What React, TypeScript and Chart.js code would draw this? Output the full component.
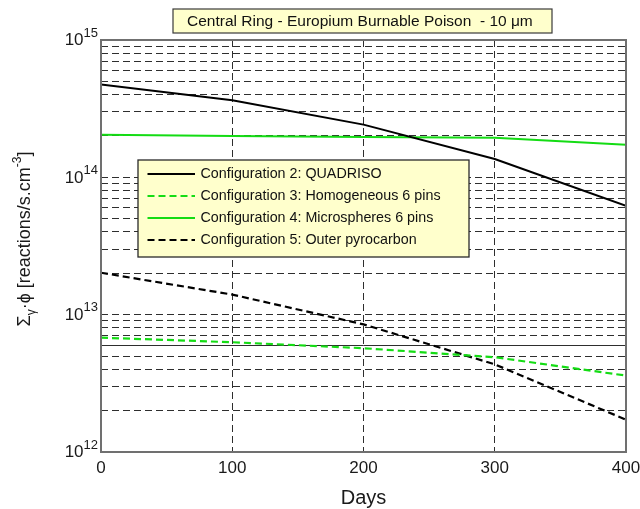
import React, { useEffect, useRef } from "react";
import { Chart, registerables } from "chart.js";

Chart.register(...registerables);

// ---------- data ----------
const days = [0, 100, 200, 300, 400];
const config2 = [4.75e14, 3.64e14, 2.42e14, 1.36e14, 6.2e13]; // QUADRISO
const config3 = [6.8e12, 6.3e12, 5.7e12, 4.9e12, 3.6e12]; // Homogeneous 6 pins
const config4 = [2.04e14, 2.0e14, 1.97e14, 1.94e14, 1.73e14]; // Microspheres 6 pins
const config5 = [2.02e13, 1.4e13, 8.5e12, 4.35e12, 1.72e12]; // Outer pyrocarbon

const xTickValues = [0, 100, 200, 300, 400];
const yExponents = [12, 13, 14, 15];
const yMantissas = [1, 2, 3, 4, 5, 6, 7, 8, 9];
const solidGridValue = 6e12;

const seriesLabels = [
  "Configuration 2: QUADRISO",
  "Configuration 3: Homogeneous 6 pins",
  "Configuration 4: Microspheres 6 pins",
  "Configuration 5: Outer pyrocarbon",
];
const titleText = "Central Ring - Europium Burnable Poison  - 10 \u03bcm";
const xTitle = "Days";

const FONT = '"Liberation Sans", Arial, Helvetica, sans-serif';
const GREEN = "#14dc14";
const BLACK = "#000000";
const DASH = [7, 4];

const overlayPlugin = {
  id: "overlay",
  beforeDraw(chart: any) {
    const { ctx, width, height } = chart;
    ctx.save();
    ctx.fillStyle = "#ffffff";
    ctx.fillRect(0, 0, width, height);
    ctx.restore();
  },
  afterDraw(chart: any) {
    const { ctx, chartArea } = chart;
    const xs = chart.scales.x;
    const ys = chart.scales.y;
    const { left, right, top, bottom } = chartArea;
    ctx.save();

    // plot box
    ctx.strokeStyle = "#707070";
    ctx.lineWidth = 2;
    ctx.setLineDash([]);
    ctx.strokeRect(left, top, right - left, bottom - top);

    // y tick labels 10^n
    ctx.fillStyle = "#1a1a1a";
    for (const e of yExponents) {
      const y = ys.getPixelForValue(Math.pow(10, e));
      const exp = String(e);
      ctx.font = `13px ${FONT}`;
      const wE = ctx.measureText(exp).width;
      const xr = left - 3;
      ctx.textAlign = "left";
      ctx.textBaseline = "alphabetic";
      ctx.fillText(exp, xr - wE, y - 3.5);
      ctx.font = `17px ${FONT}`;
      ctx.textAlign = "right";
      ctx.textBaseline = "middle";
      ctx.fillText("10", xr - wE, y + 0.5);
    }

    // x tick labels
    ctx.font = `17px ${FONT}`;
    ctx.textAlign = "center";
    ctx.textBaseline = "middle";
    for (const v of xTickValues) {
      ctx.fillText(String(v), xs.getPixelForValue(v), bottom + 16.5);
    }

    // x title
    ctx.font = `20px ${FONT}`;
    ctx.fillText(xTitle, (left + right) / 2, bottom + 46);

    // y title with sub/superscripts
    const segs = [
      { t: "\u03a3", s: 18, dy: 0 },
      { t: "\u03b3", s: 12, dy: 5 },
      { t: "\u00b7\u03d5 [reactions/s.cm", s: 18, dy: 0 },
      { t: "-3", s: 12, dy: -9 },
      { t: "]", s: 18, dy: 0 },
    ];
    let total = 0;
    for (const sg of segs) {
      ctx.font = `${sg.s}px ${FONT}`;
      total += ctx.measureText(sg.t).width;
    }
    ctx.save();
    ctx.translate(30, 239);
    ctx.rotate(-Math.PI / 2);
    ctx.textAlign = "left";
    ctx.textBaseline = "alphabetic";
    let cx = -total / 2;
    for (const sg of segs) {
      ctx.font = `${sg.s}px ${FONT}`;
      ctx.fillText(sg.t, cx, sg.dy);
      cx += ctx.measureText(sg.t).width;
    }
    ctx.restore();

    // title box
    ctx.fillStyle = "#ffffcc";
    ctx.fillRect(173, 9, 379, 24);
    ctx.strokeStyle = "#3a3a3a";
    ctx.lineWidth = 1.2;
    ctx.strokeRect(173, 9, 379, 24);
    ctx.fillStyle = "#111111";
    ctx.font = `15.5px ${FONT}`;
    ctx.textAlign = "left";
    ctx.textBaseline = "middle";
    ctx.fillText(titleText, 187, 21.5);

    // legend
    const lx = 138, ly = 160, lw = 331, lh = 97;
    ctx.fillStyle = "#ffffcc";
    ctx.fillRect(lx, ly, lw, lh);
    ctx.strokeStyle = "#2a2a2a";
    ctx.lineWidth = 1.3;
    ctx.strokeRect(lx, ly, lw, lh);
    chart.data.datasets.forEach((ds: any, i: number) => {
      const ry = ly + 14 + i * 22;
      ctx.strokeStyle = ds.borderColor;
      ctx.lineWidth = 2;
      ctx.setLineDash(ds.borderDash || []);
      ctx.beginPath();
      ctx.moveTo(147.5, ry);
      ctx.lineTo(195, ry);
      ctx.stroke();
      ctx.setLineDash([]);
      ctx.fillStyle = "#111111";
      ctx.font = `14.3px ${FONT}`;
      ctx.textAlign = "left";
      ctx.textBaseline = "middle";
      ctx.fillText(ds.label, 200.5, ry + 0.5);
    });

    ctx.restore();
  },
};

export default function App() {
  const canvasRef = useRef<HTMLCanvasElement | null>(null);

  useEffect(() => {
    document.body.style.margin = "0";
    const canvas = canvasRef.current;
    if (!canvas) return;

    const yTicks: number[] = [];
    for (const e of yExponents.slice(0, -1)) {
      for (const m of yMantissas) yTicks.push(m * Math.pow(10, e));
    }
    yTicks.push(Math.pow(10, yExponents[yExponents.length - 1]));

    const chart = new Chart(canvas, {
      type: "line",
      data: {
        labels: days,
        datasets: [
          {
            label: seriesLabels[0],
            data: days.map((d, i) => ({ x: d, y: config2[i] })),
            borderColor: BLACK,
            borderWidth: 2,
            pointRadius: 0,
            fill: false,
          },
          {
            label: seriesLabels[1],
            data: days.map((d, i) => ({ x: d, y: config3[i] })),
            borderColor: GREEN,
            borderWidth: 2.2,
            borderDash: DASH,
            pointRadius: 0,
            fill: false,
          },
          {
            label: seriesLabels[2],
            data: days.map((d, i) => ({ x: d, y: config4[i] })),
            borderColor: GREEN,
            borderWidth: 2,
            pointRadius: 0,
            fill: false,
          },
          {
            label: seriesLabels[3],
            data: days.map((d, i) => ({ x: d, y: config5[i] })),
            borderColor: BLACK,
            borderWidth: 2.2,
            borderDash: DASH,
            pointRadius: 0,
            fill: false,
          },
        ],
      },
      options: {
        responsive: false,
        animation: false,
        devicePixelRatio: 1,
        layout: { padding: { left: 101, right: 14, top: 40, bottom: 57 } },
        plugins: {
          legend: { display: false },
          title: { display: false },
          tooltip: { enabled: false },
        },
        scales: {
          x: {
            type: "linear",
            min: 0,
            max: 400,
            afterBuildTicks: (scale: any) => {
              scale.ticks = xTickValues.map((v) => ({ value: v }));
            },
            ticks: { display: false },
            grid: {
              drawTicks: false,
              color: (c: any) =>
                c.tick && (c.tick.value === 0 || c.tick.value === 400)
                  ? "rgba(0,0,0,0)"
                  : "#2e2e2e",
              lineWidth: 1,
            },
            border: { display: false, dash: DASH },
          },
          y: {
            type: "logarithmic",
            min: 1e12,
            max: 1e15,
            afterBuildTicks: (scale: any) => {
              scale.ticks = yTicks.map((v) => ({ value: v }));
            },
            ticks: { display: false },
            grid: {
              drawTicks: false,
              color: (c: any) =>
                c.tick && (c.tick.value === 1e12 || c.tick.value === 1e15)
                  ? "rgba(0,0,0,0)"
                  : "#2e2e2e",
              lineWidth: 1,
            },
            border: {
              display: false,
              dash: (c: any) =>
                c.tick && c.tick.value === solidGridValue ? [] : DASH,
            },
          },
        },
      },
      plugins: [overlayPlugin],
    } as any);

    return () => chart.destroy();
  }, []);

  return (
    <div style={{ width: 640, height: 509 }}>
      <canvas ref={canvasRef} width={640} height={509} style={{ display: "block" }} />
    </div>
  );
}
